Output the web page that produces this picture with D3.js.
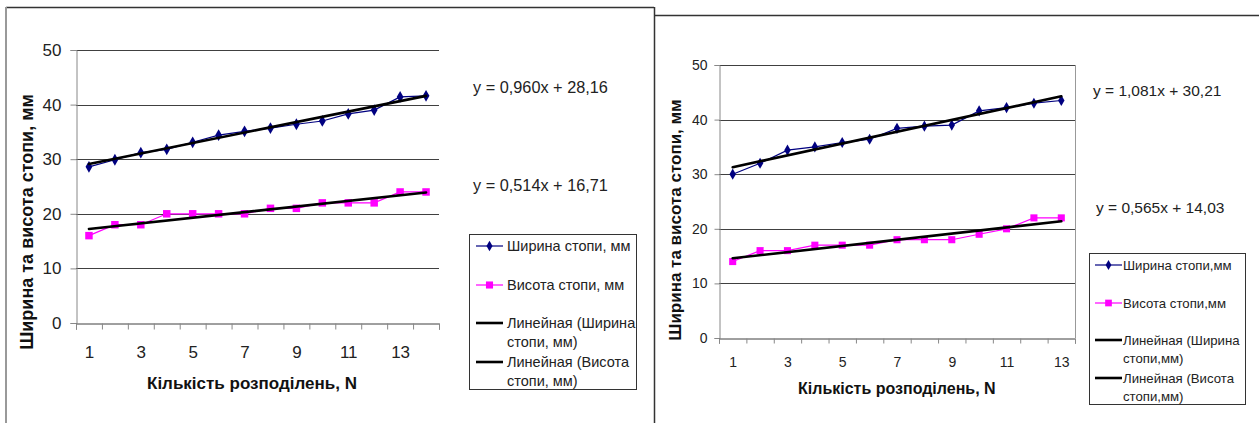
<!DOCTYPE html>
<html>
<head>
<meta charset="utf-8">
<script src="https://cdn.jsdelivr.net/npm/d3@7"></script>
<style>
  body { margin: 0; background: #fff; }
  svg { display: block; font-family: "Liberation Sans", Arial, sans-serif; }
</style>
</head>
<body>
<svg id="chart" width="1259" height="423"></svg>
<script>
// data
const leftN = [1, 2, 3, 4, 5, 6, 7, 8, 9, 10, 11, 12, 13, 14];
const leftWidth = [28.6, 29.9, 31.2, 31.8, 33.1, 34.4, 35.1, 35.7, 36.4, 37.0, 38.3, 39.0, 41.4, 41.6];
const leftHeight = [16, 18, 18, 20, 20, 20, 20, 21, 21, 22, 22, 22, 24, 24];
const leftTrend = [[0.960, 28.16], [0.514, 16.71]];
const leftEquations = ["y = 0,960x + 28,16", "y = 0,514x + 16,71"];
const leftLegend = [["Ширина стопи, мм"], ["Висота стопи, мм"], ["Линейная (Ширина", "стопи, мм)"], ["Линейная (Висота", "стопи, мм)"]];

const rightN = [1, 2, 3, 4, 5, 6, 7, 8, 9, 10, 11, 12, 13];
const rightWidth = [30.0, 32.0, 34.4, 35.0, 35.8, 36.4, 38.4, 38.8, 39.0, 41.6, 42.2, 43.0, 43.5];
const rightHeight = [14, 16, 16, 17, 17, 17, 18, 18, 18, 19, 20, 22, 22];
const rightTrend = [[1.081, 30.21], [0.565, 14.03]];
const rightEquations = ["y = 1,081x + 30,21", "y = 0,565x + 14,03"];
const rightLegend = [["Ширина стопи,мм"], ["Висота стопи,мм"], ["Линейная (Ширина", "стопи,мм)"], ["Линейная (Висота", "стопи,мм)"]];

const yTicks = [0, 10, 20, 30, 40, 50];
const xLabelsLeft = [1, 3, 5, 7, 9, 11, 13];
const xLabelsRight = [1, 3, 5, 7, 9, 11, 13];
const yTitle = "Ширина та висота стопи, мм";
const xTitle = "Кількість розподілень, N";

const svg = d3.select("#chart");

// outer frames of the two pasted charts
svg.append("line").attr("x1", 6).attr("y1", 7.5).attr("x2", 654).attr("y2", 7.5).attr("stroke", "#333").attr("stroke-width", 1.5);
svg.append("line").attr("x1", 6).attr("y1", 7).attr("x2", 6).attr("y2", 423).attr("stroke", "#999").attr("stroke-width", 2);
svg.append("line").attr("x1", 654.5).attr("y1", 7).attr("x2", 654.5).attr("y2", 423).attr("stroke", "#333").attr("stroke-width", 1.5);
svg.append("line").attr("x1", 654).attr("y1", 15.5).attr("x2", 1259).attr("y2", 15.5).attr("stroke", "#333").attr("stroke-width", 1.5);

function drawChart(cfg) {
    const g = svg.append("g");
    const n = cfg.n;

    const x = d3.scaleLinear().domain([0.5, n.length + 0.5]).range([cfg.left, cfg.right]);
    const y = d3.scaleLinear().domain([0, 50]).range([cfg.bottom, cfg.top]);

    // gridlines
    g.append("g").selectAll("line")
        .data(yTicks.filter(d => d > 0))
        .enter().append("line")
        .attr("x1", cfg.left).attr("x2", cfg.right)
        .attr("y1", d => Math.round(y(d)) + 0.5).attr("y2", d => Math.round(y(d)) + 0.5)
        .attr("stroke", "#404040").attr("stroke-width", 1);

    if (cfg.rightBorder) {
        g.append("line")
            .attr("x1", cfg.right + 0.5).attr("x2", cfg.right + 0.5)
            .attr("y1", y(50)).attr("y2", y(0))
            .attr("stroke", "#999");
    }

    // y axis
    const yAxis = g.append("g")
        .attr("transform", `translate(${Math.round(cfg.left) + 0.5},0)`)
        .call(d3.axisLeft(y).tickValues(yTicks).tickSize(cfg.tickLen).tickPadding(cfg.yPad));
    yAxis.select(".domain").attr("stroke", "#888");
    yAxis.selectAll(".tick line").attr("stroke", "#888");
    yAxis.selectAll("text").attr("font-size", cfg.tickFont).attr("fill", "#222").attr("font-family", "Liberation Sans, Arial, sans-serif");

    // x axis: tick marks between categories, labels at odd categories
    const xAxis = g.append("g")
        .attr("transform", `translate(0,${Math.round(cfg.bottom) + 0.5})`)
        .call(d3.axisBottom(x).tickValues(d3.range(0.5, n.length + 1, 1)).tickSize(cfg.tickLen).tickFormat(""));
    xAxis.select(".domain").attr("stroke", "#404040");
    xAxis.selectAll(".tick line").attr("stroke", "#888");

    const xLab = g.append("g")
        .attr("transform", `translate(0,${cfg.bottom})`)
        .call(d3.axisBottom(x).tickValues(cfg.xLabels).tickSize(0).tickPadding(cfg.xPad).tickFormat(d3.format("d")));
    xLab.select(".domain").remove();
    xLab.selectAll("text").attr("font-size", cfg.tickFont).attr("fill", "#222").attr("font-family", "Liberation Sans, Arial, sans-serif");

    // axis titles
    g.append("text")
        .attr("transform", `translate(${cfg.yTitleX},${cfg.yTitleY}) rotate(-90)`)
        .attr("text-anchor", "middle").attr("dominant-baseline", "central")
        .attr("font-size", cfg.titleFont).attr("font-weight", "bold").attr("fill", "#111")
        .text(yTitle);
    g.append("text")
        .attr("x", cfg.xTitleX).attr("y", cfg.xTitleY)
        .attr("dominant-baseline", "central")
        .attr("font-size", cfg.xTitleFont).attr("font-weight", "bold").attr("fill", "#111")
        .text(xTitle);

    const line = d3.line().x((d, i) => x(n[i])).y(d => y(d));
    const diamond = d3.symbol().type(d3.symbolDiamond).size(cfg.diamondSize);
    const square = d3.symbol().type(d3.symbolSquare).size(cfg.squareSize);

    // data series
    g.append("path").datum(cfg.width).attr("d", line)
        .attr("fill", "none").attr("stroke", "#000080").attr("stroke-width", 1.2);
    g.append("g").selectAll("path").data(cfg.width).enter().append("path")
        .attr("d", diamond)
        .attr("transform", (d, i) => `translate(${x(n[i])},${y(d)})`)
        .attr("fill", "#000080");

    g.append("path").datum(cfg.height).attr("d", line)
        .attr("fill", "none").attr("stroke", "#ff00ff").attr("stroke-width", 1.2);
    g.append("g").selectAll("path").data(cfg.height).enter().append("path")
        .attr("d", square)
        .attr("transform", (d, i) => `translate(${x(n[i])},${y(d)})`)
        .attr("fill", "#ff00ff");

    // linear trend lines from the shown equations
    const first = n[0], last = n[n.length - 1];
    cfg.trend.forEach(([a, b]) => {
        g.append("line")
            .attr("x1", x(first)).attr("y1", y(a * first + b))
            .attr("x2", x(last)).attr("y2", y(a * last + b))
            .attr("stroke", "#000").attr("stroke-width", 2.6).attr("stroke-linecap", "round");
    });

    // equations
    cfg.equations.forEach((t, i) => {
        g.append("text")
            .attr("x", cfg.eqPos[i][0]).attr("y", cfg.eqPos[i][1])
            .attr("dominant-baseline", "central")
            .attr("font-size", cfg.eqFont).attr("fill", "#222")
            .text(t);
    });

    // legend
    const lg = cfg.legend;
    g.append("rect")
        .attr("x", lg.x + 0.5).attr("y", lg.y + 0.5)
        .attr("width", lg.w).attr("height", lg.h)
        .attr("fill", "#fff").attr("stroke", "#333");

    const sym = [
        { color: "#000080", marker: d3.symbol().type(d3.symbolDiamond).size(cfg.diamondSize * 0.8), w: 1.2 },
        { color: "#ff00ff", marker: d3.symbol().type(d3.symbolSquare).size(cfg.squareSize * 0.9), w: 1.2 },
        { color: "#000", marker: null, w: 2.6 },
        { color: "#000", marker: null, w: 2.6 }
    ];
    cfg.legendLabels.forEach((lines, i) => {
        const cy = lg.firstY + lg.rowYs[i];
        const s = sym[i];
        g.append("line")
            .attr("x1", lg.symX0).attr("x2", lg.symX1)
            .attr("y1", cy).attr("y2", cy)
            .attr("stroke", s.color).attr("stroke-width", s.w);
        if (s.marker) {
            g.append("path").attr("d", s.marker)
                .attr("transform", `translate(${(lg.symX0 + lg.symX1) / 2},${cy})`)
                .attr("fill", s.color);
        }
        lines.forEach((t, j) => {
            g.append("text")
                .attr("x", lg.textX).attr("y", cy + j * lg.lineH)
                .attr("dominant-baseline", "central")
                .attr("font-size", lg.font).attr("fill", "#222")
                .text(t);
        });
    });
}

drawChart({
    n: leftN, width: leftWidth, height: leftHeight, trend: leftTrend,
    equations: leftEquations, legendLabels: leftLegend, xLabels: xLabelsLeft,
    left: 76, right: 439, top: 50, bottom: 323,
    tickLen: 6, yPad: 9, xPad: 23, tickFont: 17,
    titleFont: 18, xTitleFont: 17,
    yTitleX: 27, yTitleY: 222, xTitleX: 147, xTitleY: 383,
    diamondSize: 40, squareSize: 56, rightBorder: false,
    eqFont: 16.3, eqPos: [[473, 87], [473, 185]],
    legend: { x: 469, y: 234, w: 167, h: 155, symX0: 476, symX1: 503, textX: 507,
              firstY: 246, rowYs: [0, 39, 77, 116], lineH: 19, font: 14.5 }
});

drawChart({
    n: rightN, width: rightWidth, height: rightHeight, trend: rightTrend,
    equations: rightEquations, legendLabels: rightLegend, xLabels: xLabelsRight,
    left: 719, right: 1075, top: 65, bottom: 338,
    tickLen: 5, yPad: 7, xPad: 19, tickFont: 14,
    titleFont: 17, xTitleFont: 16,
    yTitleX: 675, yTitleY: 220, xTitleX: 798, xTitleY: 388,
    diamondSize: 36, squareSize: 50, rightBorder: true,
    eqFont: 15.5, eqPos: [[1093, 90], [1096, 207]],
    legend: { x: 1089, y: 253, w: 156, h: 151, symX0: 1095, symX1: 1122, textX: 1123,
              firstY: 265, rowYs: [0, 38, 75, 113], lineH: 18.5, font: 13.2 }
});
</script>
</body>
</html>
